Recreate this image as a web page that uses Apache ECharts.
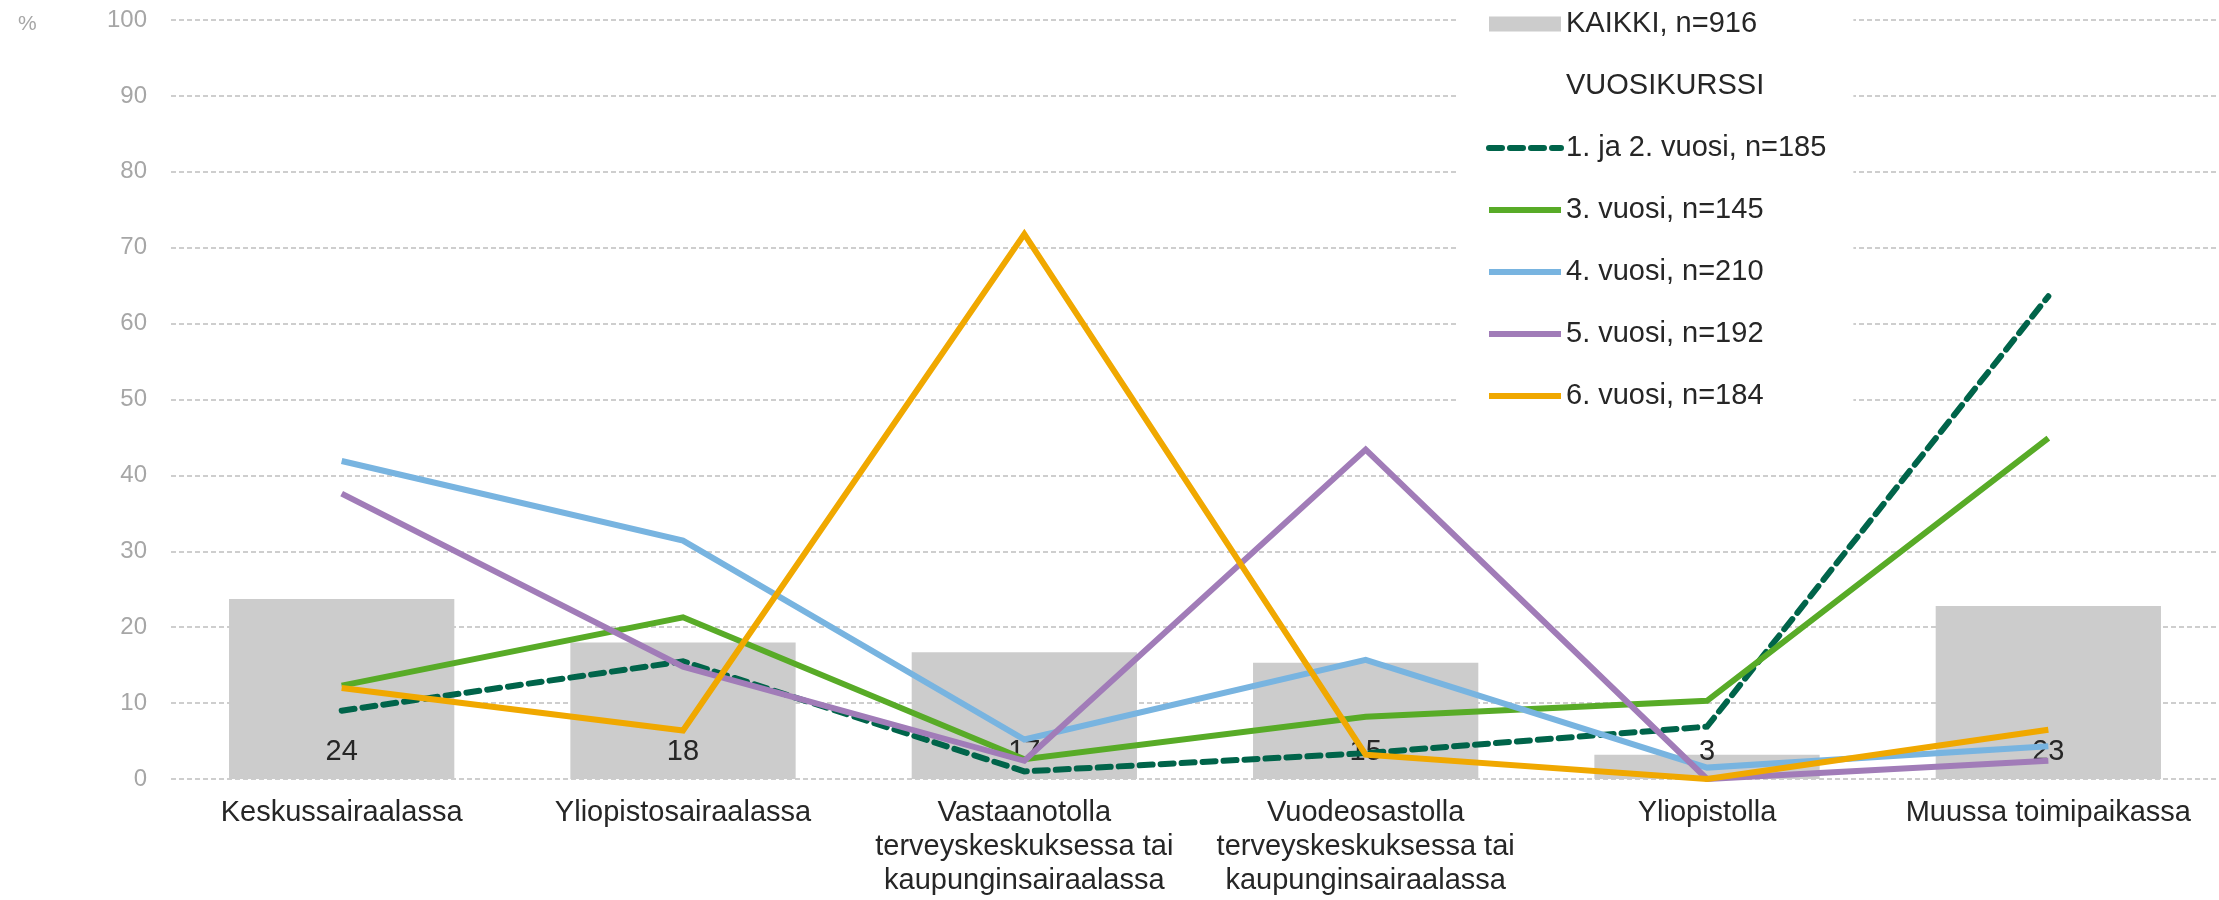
<!DOCTYPE html>
<html>
<head>
<meta charset="utf-8">
<title>Työpaikka</title>
<script src="https://cdn.jsdelivr.net/npm/echarts@6/dist/echarts.min.js"></script>
<style>
html, body { margin: 0; padding: 0; background: #fff; }
#chart { width: 2219px; height: 900px; }
</style>
</head>
<body>
<div id="chart"></div>
<script>
// categories (x axis)
var categories = [
    'Keskussairaalassa',
    'Yliopistosairaalassa',
    'Vastaanotolla\nterveyskeskuksessa tai\nkaupunginsairaalassa',
    'Vuodeosastolla\nterveyskeskuksessa tai\nkaupunginsairaalassa',
    'Yliopistolla',
    'Muussa toimipaikassa'
];

// KAIKKI, n=916 (bars)
var kaikki = [23.7, 18.0, 16.7, 15.3, 3.2, 22.8];

// VUOSIKURSSI (lines)
var vuosi12 = [9.0, 15.5, 1.0, 3.4, 6.9, 63.6];
var vuosi3 = [12.3, 21.3, 2.6, 8.2, 10.3, 44.9];
var vuosi4 = [41.9, 31.4, 5.2, 15.7, 1.5, 4.3];
var vuosi5 = [37.6, 14.8, 2.4, 43.4, 0, 2.4];
var vuosi6 = [12.0, 6.4, 71.8, 3.2, 0, 6.5];

var yTicks = [0, 10, 20, 30, 40, 50, 60, 70, 80, 90, 100];

var chartDom = document.getElementById('chart');
var myChart = echarts.init(chartDom);

function lineSeries(name, data, color, dashed) {
    return {
        name: name,
        type: 'line',
        data: data,
        symbol: 'none',
        silent: true,
        z: 3,
        lineStyle: {
            color: color,
            width: 6,
            type: dashed ? [13, 8] : 'solid',
            cap: dashed ? 'round' : 'butt',
            join: 'miter'
        },
        itemStyle: { color: color }
    };
}

// legend item for a line: no dot, only the line
function lineItem(name) {
    return { name: name, itemStyle: { opacity: 0 } };
}

var option = {
    animation: false,
    textStyle: { fontFamily: 'Liberation Sans, Arial, sans-serif' },
    title: {
        text: '%',
        left: 13,
        top: 9,
        textStyle: { fontSize: 21, fontWeight: 'normal', color: '#a6a6a6' }
    },
    grid: {
        left: 171,
        right: -1,
        top: 20,
        bottom: 121,
        containLabel: false
    },
    legend: {
        orient: 'vertical',
        left: 1457,
        top: 0,
        padding: [9, 27, 22, 29],
        backgroundColor: '#fff',
        itemWidth: 72,
        itemHeight: 15,
        itemGap: 32,
        selectedMode: false,
        z: 10,
        lineStyle: { width: 6 },
        textStyle: { fontSize: 29, color: '#262626', lineHeight: 30 },
        data: [
            { name: 'KAIKKI, n=916', icon: 'rect' },
            { name: 'VUOSIKURSSI', icon: 'rect', itemStyle: { color: 'rgba(0,0,0,0)' } },
            lineItem('1. ja 2. vuosi, n=185'),
            lineItem('3. vuosi, n=145'),
            lineItem('4. vuosi, n=210'),
            lineItem('5. vuosi, n=192'),
            lineItem('6. vuosi, n=184')
        ]
    },
    xAxis: {
        type: 'category',
        data: categories,
        axisLine: { show: false },
        axisTick: { show: false },
        axisLabel: {
            interval: 0,
            margin: 17,
            fontSize: 29,
            lineHeight: 34,
            color: '#262626'
        }
    },
    yAxis: {
        type: 'value',
        min: 0,
        max: 100,
        interval: 10,
        axisLine: { show: false },
        axisTick: { show: false },
        axisLabel: {
            margin: 24,
            fontSize: 24,
            color: '#a6a6a6',
            customValues: yTicks
        },
        splitLine: {
            lineStyle: { color: '#bfbfbf', width: 1.5, type: [5, 3] }
        }
    },
    series: [
        {
            name: 'KAIKKI, n=916',
            type: 'bar',
            data: kaikki,
            barCategoryGap: '34%',
            silent: true,
            z: 2,
            itemStyle: { color: '#cccccc' },
            label: {
                show: true,
                position: 'insideBottom',
                distance: 13,
                fontSize: 29,
                color: '#262626',
                formatter: function (p) { return Math.round(p.value); }
            }
        },
        {
            name: 'VUOSIKURSSI',
            type: 'line',
            data: [],
            symbol: 'none',
            lineStyle: { color: 'rgba(0,0,0,0)', width: 0 },
            itemStyle: { color: 'rgba(0,0,0,0)' }
        },
        lineSeries('1. ja 2. vuosi, n=185', vuosi12, '#00644a', true),
        lineSeries('3. vuosi, n=145', vuosi3, '#58ab27', false),
        lineSeries('4. vuosi, n=210', vuosi4, '#78b4e0', false),
        lineSeries('5. vuosi, n=192', vuosi5, '#a17cb8', false),
        lineSeries('6. vuosi, n=184', vuosi6, '#f0a800', false)
    ]
};

myChart.setOption(option);
</script>
</body>
</html>
